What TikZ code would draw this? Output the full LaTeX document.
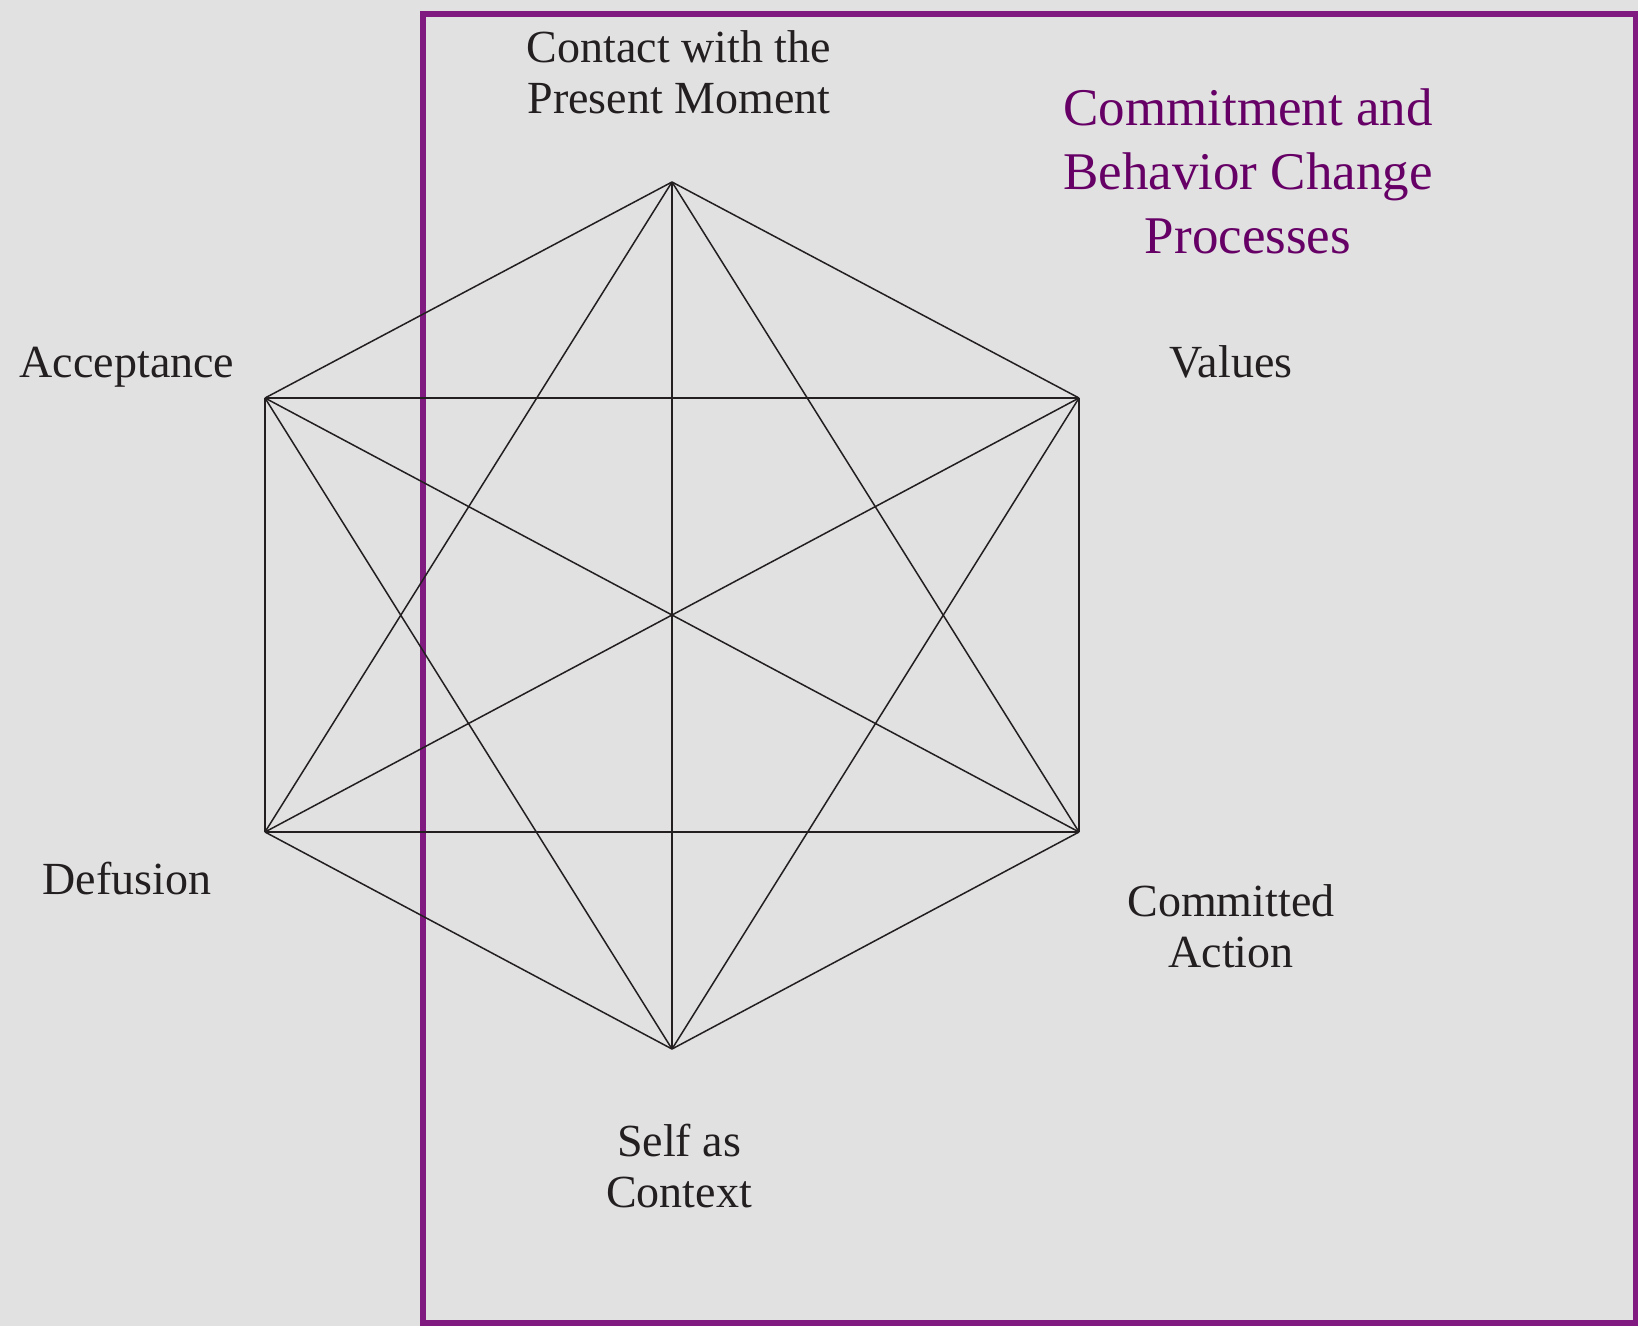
\documentclass[tikz,border=0pt]{standalone}
\usepackage{fontspec}
\setmainfont{Liberation Serif}
\definecolor{Bg}{RGB}{225,225,225}
\definecolor{Ink}{RGB}{35,31,32}
\definecolor{Plum}{RGB}{128,26,128}
\definecolor{Plum1}{RGB}{102,0,102}
\tikzset{
    lbl/.style={text=Ink, font=\fontsize{46}{51}\selectfont, align=center,
                inner sep=0, anchor=base},
    ttl/.style={text=Plum1, font=\fontsize{53}{64}\selectfont, align=center,
                inner sep=0, anchor=base},
    link/.style={draw=Ink, line width=1.5pt}
}

\begin{document}
\begin{tikzpicture}[x=1pt,y=-1pt]
    \useasboundingbox (0,0) rectangle (1638,1326);
    \fill[Bg] (0,0) rectangle (1638,1326);
    \draw[Plum, line width=5.5pt] (423,14) rectangle (1636,1323);

    \coordinate (cp) at (672,182);
    \coordinate (va) at (1079,398);
    \coordinate (ca) at (1079,832);
    \coordinate (sc) at (672,1049);
    \coordinate (df) at (265,832);
    \coordinate (ac) at (265,398);

    \foreach \a [count=\i] in {cp,va,ca,sc,df,ac}
        \foreach \b [count=\j] in {cp,va,ca,sc,df,ac}
            {\ifnum\j>\i \draw[link] (\a) -- (\b); \fi}

    \node[lbl] (cpl) at (679,113) {Contact with the\\Present Moment};
    \node[lbl] (acl) at (127,377) {Acceptance};
    \node[lbl] (val) at (1231,377) {Values};
    \node[lbl] (dfl) at (127,894) {Defusion};
    \node[lbl] (cal) at (1231,967) {Committed\\Action};
    \node[lbl] (scl) at (679,1207) {Self as\\Context};
    \node[ttl] (cbc) at (1248,253) {Commitment and\\Behavior Change\\Processes};
\end{tikzpicture}
\end{document}
